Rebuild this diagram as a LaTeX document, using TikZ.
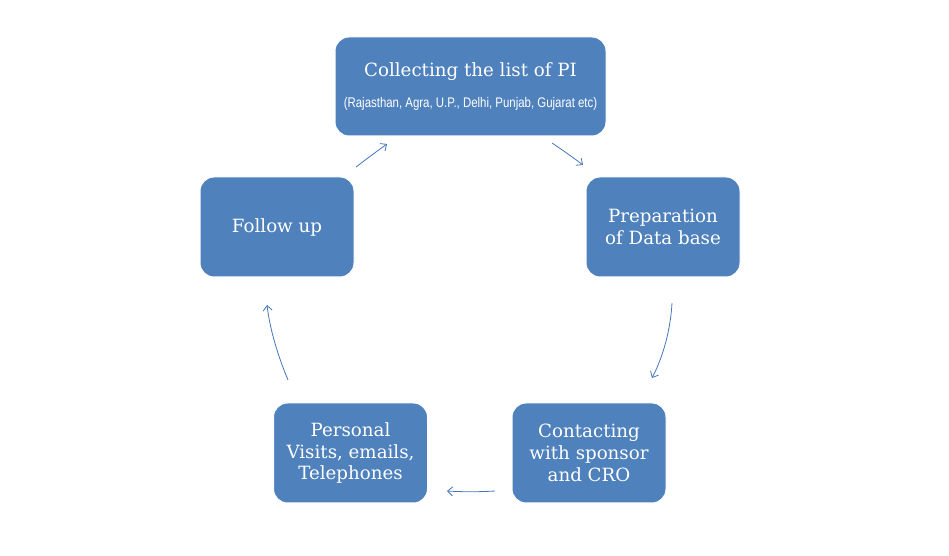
\documentclass[tikz,border=0pt]{standalone}
\usepackage{fontspec}
\setmainfont{DejaVu Serif}
\newfontfamily\narrowfont[FakeStretch=0.82]{Liberation Sans}
\usetikzlibrary{arrows.meta}
\definecolor{boxblue}{HTML}{4F81BD}
\definecolor{linkblue}{HTML}{4676B6}
\begin{document}
\begin{tikzpicture}[>={Straight Barb[length=5bp,width=9bp]},line join=bevel,
  stage/.style={draw=white,line width=1bp,fill=boxblue,rounded corners=14bp,text=white,
    align=center,inner sep=0pt,minimum width=154bp,minimum height=100bp,
    font=\fontsize{18.3}{22}\selectfont},
  link/.style={linkblue,line width=0.8bp}]
\useasboundingbox (0bp,0bp) rectangle (949bp,556bp);
%%
\node (node_0) at (470.5bp,469.5bp) [stage,minimum width=271bp,minimum height=99bp]
  {Collecting the list of PI\\[9bp]{\narrowfont\fontsize{14}{16}\selectfont (Rajasthan, Agra, U.P., Delhi, Punjab, Gujarat etc)}};
  \node (node_1) at (663.0bp,329.0bp) [stage] {Preparation\\of Data base};
  \node (node_2) at (589.0bp,103.0bp) [stage] {Contacting\\with sponsor\\and CRO};
  \node (node_3) at (350.5bp,103.0bp) [stage] {Personal\\Visits, emails,\\Telephones};
  \node (node_4) at (277.0bp,329.0bp) [stage] {Follow up};
%
  \coordinate (link_0a) at (552.0bp,413.0bp);
  \coordinate (link_0b) at (583.0bp,391.0bp);
  \coordinate (link_1a) at (672.0bp,253.0bp);
  \coordinate (link_1b) at (652.0bp,178.0bp);
  \coordinate (link_2a) at (495.0bp,65.0bp);
  \coordinate (link_2b) at (447.0bp,65.0bp);
  \coordinate (link_3a) at (288.0bp,176.0bp);
  \coordinate (link_3b) at (267.0bp,251.0bp);
  \coordinate (link_4a) at (356.0bp,389.0bp);
  \coordinate (link_4b) at (387.0bp,412.0bp);
  \draw [link,->] (link_0a) ..controls (562.5bp,406.0bp) and (573.0bp,398.5bp)  .. (link_0b);
  \draw [link,->] (link_1a) ..controls (670.5bp,226.0bp) and (663.0bp,199.0bp)  .. (link_1b);
  \draw [link,->] (link_2a) ..controls (479.0bp,64.0bp) and (463.0bp,64.0bp)  .. (link_2b);
  \draw [link,->] (link_3a) ..controls (278.0bp,200.0bp) and (270.0bp,226.0bp)  .. (link_3b);
  \draw [link,->] (link_4a) ..controls (366.5bp,397.0bp) and (376.5bp,404.5bp)  .. (link_4b);
%
\end{tikzpicture}
\end{document}
